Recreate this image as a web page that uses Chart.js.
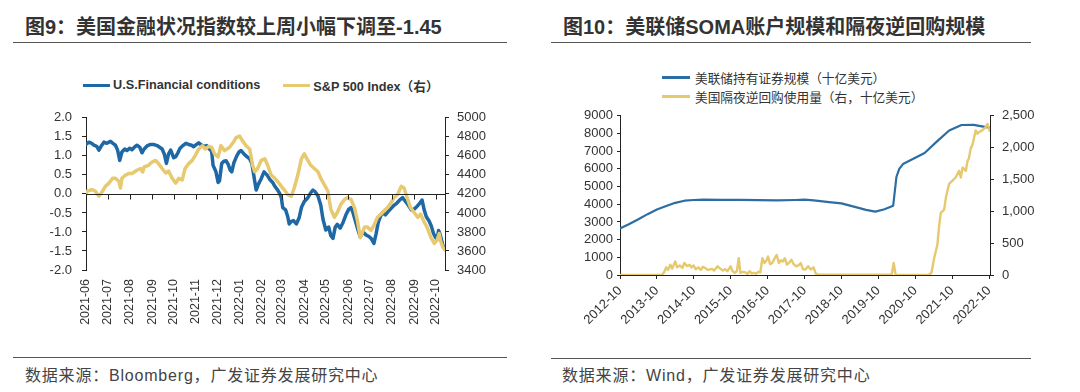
<!DOCTYPE html>
<html>
<head>
<meta charset="utf-8">
<script src="https://cdn.jsdelivr.net/npm/chart.js@4.4.0/dist/chart.umd.min.js"></script>
<style>
html,body{margin:0;padding:0;background:#fff;}
body{width:1080px;height:392px;position:relative;overflow:hidden;font-family:"Liberation Sans",Arial,"Noto Sans CJK SC",sans-serif;}
.title{position:absolute;top:15px;font-family:"Liberation Sans","Noto Sans CJK SC",sans-serif;font-weight:700;font-size:20px;line-height:24px;color:#333;white-space:nowrap;}
.rule{position:absolute;height:1px;background:#555;}
.src{position:absolute;top:367px;font-family:"Liberation Sans","Noto Sans CJK SC",sans-serif;font-size:16px;letter-spacing:0.8px;line-height:18px;color:#444;white-space:nowrap;}
canvas{position:absolute;}
.legend{position:absolute;}
.lg-item{display:flex;align-items:center;white-space:nowrap;color:#333;}
.lg-sw{display:inline-block;}
#lg1{left:83px;top:77px;display:flex;flex-direction:row;gap:23px;}
#lg1 .lg-item{height:16px;font-weight:700;font-size:12.7px;font-family:"Liberation Sans","Noto Sans CJK SC",sans-serif;}
#lg1 .lg-sw{width:27px;margin-right:3px;}
#lg2{left:662px;top:68px;display:flex;flex-direction:column;}
#lg2 .lg-item{height:19px;font-size:12.7px;font-family:"Noto Sans CJK SC",sans-serif;}
#lg2 .lg-sw{width:28px;margin-right:5px;}
</style>
</head>
<body>
<div class="title" style="left:25px;">图9：美国金融状况指数较上周小幅下调至-1.45</div>
<div class="rule" style="left:13px;top:42px;width:494px;"></div>
<div class="title" style="left:563px;">图10：美联储SOMA账户规模和隔夜逆回购规模</div>
<div class="rule" style="left:551px;top:42px;width:480px;"></div>

<div id="lg1" class="legend"></div>
<div id="lg2" class="legend"></div>

<canvas id="c1" width="540" height="245" style="left:0;top:100px;"></canvas>
<canvas id="c2" width="540" height="250" style="left:540px;top:100px;"></canvas>

<div class="rule" style="left:13px;top:357px;width:494px;"></div>
<div class="src" style="left:25px;">数据来源：Bloomberg，广发证券发展研究中心</div>
<div class="rule" style="left:551px;top:358px;width:480px;"></div>
<div class="src" style="left:562px;">数据来源：Wind，广发证券发展研究中心</div>

<script>
// ---------------- Chart 1 data (图9) ----------------
const leftTickLabels = ['2021-06','2021-07','2021-08','2021-09','2021-10','2021-11','2021-12','2022-01','2022-02','2022-03','2022-04','2022-05','2022-06','2022-07','2022-08','2022-09','2022-10'];
const leftRange = ['2021-06-01','2022-10-14'];
const fciAxisTicks = [-2.0,-1.5,-1.0,-0.5,0.0,0.5,1.0,1.5,2.0];
const spxAxisTicks = [3400,3600,3800,4000,4200,4400,4600,4800,5000];

const fciDates = ['2021-06-01','2021-06-05','2021-06-09','2021-06-12','2021-06-16','2021-06-19','2021-06-23','2021-06-26','2021-06-30',
'2021-07-05','2021-07-09','2021-07-12','2021-07-15','2021-07-18','2021-07-21','2021-07-25','2021-07-28',
'2021-08-01','2021-08-04','2021-08-07','2021-08-11','2021-08-15','2021-08-18','2021-08-21','2021-08-25','2021-08-30',
'2021-09-03','2021-09-08','2021-09-12','2021-09-15','2021-09-18','2021-09-21','2021-09-24','2021-09-27',
'2021-10-01','2021-10-04','2021-10-07','2021-10-10','2021-10-14','2021-10-18','2021-10-22','2021-10-26','2021-10-29',
'2021-11-02','2021-11-05','2021-11-09','2021-11-12','2021-11-16','2021-11-19','2021-11-23','2021-11-25','2021-11-29',
'2021-12-02','2021-12-04','2021-12-07','2021-12-10','2021-12-13','2021-12-16','2021-12-19','2021-12-21','2021-12-24','2021-12-28','2021-12-31',
'2022-01-03','2022-01-07','2022-01-11','2022-01-15','2022-01-18','2022-01-21','2022-01-24','2022-01-27','2022-01-31',
'2022-02-04','2022-02-08','2022-02-12','2022-02-16','2022-02-19','2022-02-23','2022-02-26','2022-02-28',
'2022-03-02','2022-03-06','2022-03-09','2022-03-11','2022-03-14','2022-03-17','2022-03-21','2022-03-25','2022-03-28',
'2022-04-01','2022-04-06','2022-04-10','2022-04-13','2022-04-16','2022-04-20','2022-04-24','2022-04-27',
'2022-05-01','2022-05-05','2022-05-08','2022-05-11','2022-05-14','2022-05-17','2022-05-21','2022-05-25','2022-05-29',
'2022-06-02','2022-06-05','2022-06-08','2022-06-11','2022-06-14','2022-06-18','2022-06-22','2022-06-26','2022-06-30',
'2022-07-03','2022-07-07','2022-07-10','2022-07-13','2022-07-16','2022-07-19','2022-07-23','2022-07-27','2022-07-31',
'2022-08-04','2022-08-08','2022-08-12','2022-08-16','2022-08-20','2022-08-24','2022-08-28',
'2022-09-01','2022-09-05','2022-09-09','2022-09-12','2022-09-15','2022-09-18','2022-09-22','2022-09-25','2022-09-28',
'2022-10-01','2022-10-03','2022-10-05','2022-10-07','2022-10-09','2022-10-11','2022-10-14'];
const fciValues = [1.30,1.36,1.33,1.28,1.25,1.15,1.28,1.36,1.33,
1.38,1.32,1.28,1.15,0.88,1.10,1.18,1.14,
1.20,1.16,1.22,1.28,1.22,1.08,1.18,1.26,1.30,
1.30,1.27,1.22,1.18,1.05,0.80,1.05,1.15,
0.95,0.98,1.08,1.20,1.27,1.33,1.30,1.28,1.24,
1.30,1.34,1.28,1.25,1.27,1.20,1.12,0.75,0.58,
0.30,0.35,0.80,0.86,0.87,0.78,0.62,0.58,0.82,1.00,1.10,
1.14,1.05,0.98,0.92,0.80,0.45,0.10,0.25,0.40,
0.58,0.50,0.38,0.30,0.20,0.10,0.00,-0.10,
-0.36,-0.42,-0.60,-0.79,-0.72,-0.70,-0.79,-0.62,-0.36,
-0.20,-0.10,0.03,0.10,0.06,-0.05,-0.30,-0.66,
-0.95,-0.87,-1.10,-1.17,-0.88,-0.80,-0.90,-0.75,-0.55,
-0.40,-0.36,-0.50,-0.70,-0.90,-1.13,-1.00,-1.08,-1.12,
-1.17,-1.30,-1.05,-0.75,-0.60,-0.49,-0.55,-0.46,-0.38,
-0.30,-0.24,-0.16,-0.10,-0.20,-0.30,-0.42,
-0.40,-0.33,-0.24,-0.16,-0.42,-0.60,-0.72,-0.85,-1.04,
-1.15,-1.20,-0.96,-1.05,-1.20,-1.35,-1.45];

const spxDates = ['2021-06-01','2021-06-03','2021-06-07','2021-06-10','2021-06-14','2021-06-19','2021-06-24','2021-06-28',
'2021-07-03','2021-07-08','2021-07-12','2021-07-17','2021-07-19','2021-07-21','2021-07-26','2021-07-31',
'2021-08-04','2021-08-11','2021-08-16','2021-08-19','2021-08-21','2021-08-27',
'2021-09-01','2021-09-06','2021-09-10','2021-09-15','2021-09-20','2021-09-24','2021-09-29',
'2021-10-04','2021-10-08','2021-10-13','2021-10-17','2021-10-22','2021-10-27','2021-10-31',
'2021-11-05','2021-11-10','2021-11-14','2021-11-19','2021-11-23','2021-11-27',
'2021-12-02','2021-12-06','2021-12-11','2021-12-18','2021-12-23','2021-12-27',
'2022-01-01','2022-01-05','2022-01-10','2022-01-15','2022-01-19','2022-01-22','2022-01-26','2022-01-31',
'2022-02-05','2022-02-09','2022-02-14','2022-02-19','2022-02-23','2022-02-28',
'2022-03-04','2022-03-09','2022-03-14','2022-03-18','2022-03-23','2022-03-28',
'2022-04-01','2022-04-06','2022-04-10','2022-04-15','2022-04-20','2022-04-24','2022-04-29',
'2022-05-04','2022-05-06','2022-05-08','2022-05-13','2022-05-17','2022-05-22','2022-05-27','2022-05-31',
'2022-06-05','2022-06-10','2022-06-14','2022-06-18','2022-06-24','2022-06-28',
'2022-07-03','2022-07-07','2022-07-12','2022-07-17','2022-07-21','2022-07-26','2022-07-31',
'2022-08-04','2022-08-09','2022-08-14','2022-08-18','2022-08-23','2022-08-27',
'2022-09-01','2022-09-06','2022-09-10','2022-09-15','2022-09-19','2022-09-24','2022-09-29',
'2022-10-03','2022-10-06','2022-10-08','2022-10-11','2022-10-14'];
const spxValues = [4205,4228,4240,4244,4228,4176,4228,4279,
4313,4364,4364,4330,4262,4364,4398,4415,
4415,4449,4467,4430,4484,4501,
4535,4552,4518,4467,4420,4440,4364,
4313,4364,4347,4467,4518,4552,4603,
4672,4706,4672,4700,4690,4621,
4590,4706,4655,4690,4740,4792,
4808,4757,4706,4672,4501,4433,4467,4552,
4569,4501,4398,4364,4330,4279,
4244,4193,4176,4262,4398,4569,
4621,4552,4501,4467,4433,4364,4296,
4228,4125,4039,3954,4005,4090,4142,4159,
4142,4056,3920,3740,3851,3851,
3817,3868,3954,3988,4022,4056,4108,
4159,4193,4279,4262,4142,4056,
4005,3954,3988,3903,3851,3749,3680,
3715,3783,3700,3640,3612];

// ---------------- Chart 2 data (图10) ----------------
const rightTickLabels = ['2012-10','2013-10','2014-10','2015-10','2016-10','2017-10','2018-10','2019-10','2020-10','2021-10','2022-10'];
const rightRange = ['2012-10-01','2022-10-10'];
const somaAxisTicks = [0,1000,2000,3000,4000,5000,6000,7000,8000,9000];
const rrpAxisTicks = [0,500,1000,1500,2000,2500];

const somaDates = ['2012-10-01','2013-01-01','2013-04-01','2013-07-01','2013-10-01','2014-01-01','2014-04-01','2014-07-01','2014-10-01',
'2015-01-01','2015-07-01','2016-01-01','2016-07-01','2017-01-01','2017-07-01','2017-10-01','2018-01-01','2018-06-01','2018-10-01',
'2019-03-01','2019-06-01','2019-09-01','2019-12-01','2020-02-25','2020-03-28','2020-04-25','2020-06-01','2020-10-01',
'2021-01-01','2021-05-01','2021-09-01','2022-01-01','2022-05-01','2022-09-01','2022-10-10'];
const somaValues = [2630,2880,3150,3440,3700,3900,4080,4200,4240,
4260,4250,4250,4230,4220,4240,4260,4220,4120,4050,
3820,3680,3580,3720,3920,5540,6000,6270,6630,
6900,7540,8170,8480,8490,8360,8330];

const rrpDates = ['2012-10-01','2013-11-20','2013-12-10','2013-12-31','2014-01-20','2014-02-10','2014-03-01','2014-03-31','2014-04-20',
'2014-05-15','2014-06-10','2014-06-30','2014-07-25','2014-08-20','2014-09-10','2014-09-30','2014-10-20','2014-11-15','2014-12-10','2014-12-31',
'2015-01-25','2015-02-20','2015-03-31','2015-04-20','2015-05-25','2015-06-20','2015-07-15','2015-08-05','2015-08-30','2015-09-30',
'2015-10-20','2015-11-10','2015-12-01','2015-12-20','2016-01-05','2016-01-30','2016-02-25','2016-03-15','2016-04-05','2016-04-25',
'2016-05-15','2016-06-10','2016-06-30','2016-07-20','2016-08-10','2016-08-30','2016-09-20','2016-10-05','2016-10-25','2016-11-15',
'2016-12-05','2016-12-30','2017-01-20','2017-02-10','2017-03-01','2017-03-20','2017-04-10','2017-05-05','2017-05-25','2017-06-15',
'2017-07-10','2017-08-01','2017-08-25','2017-09-15','2017-10-10','2017-11-05','2017-12-01','2017-12-29','2018-01-20','2018-02-15',
'2018-08-01','2019-03-01','2019-09-01','2020-02-10','2020-03-01','2020-03-20','2020-10-01','2021-02-15','2021-03-10','2021-04-05',
'2021-05-07','2021-05-25','2021-06-10','2021-07-13','2021-08-01','2021-09-01','2021-10-04','2021-11-06','2021-12-08','2021-12-25',
'2022-01-12','2022-02-13','2022-03-01','2022-03-16','2022-04-03','2022-04-19','2022-05-04','2022-05-21','2022-06-07','2022-06-24',
'2022-07-25','2022-08-28','2022-09-15','2022-10-10'];
const rrpValues = [0,0,40,120,80,163,100,213,120,
150,110,190,140,160,120,150,91,120,80,130,
105,80,95,70,137,100,70,91,60,137,
60,35,60,264,35,50,40,15,60,25,
35,20,50,40,264,188,230,290,170,188,
250,315,188,230,213,264,163,200,239,170,
137,150,188,91,87,137,87,120,20,5,
3,4,3,4,190,5,2,5,35,264,
470,777,975,1026,1230,1433,1483,1535,1636,1530,
1687,1636,1788,1839,1992,2040,2144,2271,2220,2245,
2271,2321,2373,2250];

// ---------------- helpers ----------------
const dayNum = s => { const p = s.split('-').map(Number); return Date.UTC(p[0], p[1] - 1, p[2] || 1) / 864e5; };
const toXY = (dates, vals) => dates.map((d, i) => ({ x: dayNum(d), y: vals[i] }));
const stepOf = arr => arr[1] - arr[0];

Chart.defaults.font.family = "'Liberation Sans', Arial, sans-serif";
Chart.defaults.color = '#333';

const AXIS = '#222';

const htmlLegend = {
  id: 'htmlLegend',
  afterUpdate(chart, args, opts) {
    const box = document.getElementById(opts.containerID);
    box.innerHTML = '';
    chart.data.datasets.forEach(ds => {
      const item = document.createElement('div');
      item.className = 'lg-item';
      const sw = document.createElement('span');
      sw.className = 'lg-sw';
      sw.style.background = ds.borderColor;
      sw.style.height = opts.swatchHeight + 'px';
      const tx = document.createElement('span');
      tx.textContent = ds.label;
      item.append(sw, tx);
      box.appendChild(item);
    });
  }
};

const zeroLine = {
  id: 'zeroLine',
  afterDatasetsDraw(chart, args, opts) {
    if (!opts.enabled) return;
    const { ctx, chartArea, scales } = chart;
    const x = scales.x, y = scales.y;
    const py = Math.round(y.getPixelForValue(0)) + 0.5;
    ctx.save();
    ctx.strokeStyle = opts.color;
    ctx.lineWidth = 1;
    ctx.beginPath();
    ctx.moveTo(chartArea.left, py);
    ctx.lineTo(chartArea.right, py);
    x.ticks.forEach(t => {
      const px = Math.round(x.getPixelForValue(t.value)) + 0.5;
      ctx.moveTo(px, py);
      ctx.lineTo(px, py + opts.tickLength);
    });
    ctx.stroke();
    ctx.restore();
  }
};

const tickFont = { size: 13 };

// ---------------- Chart 1 ----------------
new Chart(document.getElementById('c1'), {
  type: 'line',
  data: {
    datasets: [
      { label: 'U.S.Financial conditions', data: toXY(fciDates, fciValues), yAxisID: 'y',
        borderColor: '#1e68a6', backgroundColor: '#1e68a6', borderWidth: 3.5, pointRadius: 0, order: 2 },
      { label: 'S&P 500 Index（右）', data: toXY(spxDates, spxValues), yAxisID: 'y1',
        borderColor: '#e7c96f', backgroundColor: '#e7c96f', borderWidth: 3.5, pointRadius: 0, order: 1 }
    ]
  },
  options: {
    responsive: false, devicePixelRatio: 1, animation: false, events: [],
    layout: { padding: { top: 13, left: 0, right: 0, bottom: 0 } },
    elements: { line: { tension: 0, borderJoinStyle: 'round', borderCapStyle: 'round' } },
    plugins: {
      legend: { display: false }, tooltip: { enabled: false },
      htmlLegend: { containerID: 'lg1', swatchHeight: 3 },
      zeroLine: { enabled: true, color: AXIS, tickLength: 5 }
    },
    scales: {
      x: {
        type: 'linear', min: dayNum(leftRange[0]), max: dayNum(leftRange[1]),
        afterBuildTicks: s => { s.ticks = leftTickLabels.map(l => ({ value: dayNum(l + '-01') })); },
        afterFit: s => { s.height = 75; },
        ticks: { autoSkip: false, minRotation: 90, maxRotation: 90, padding: 9, color: '#333', font: { size: 12.5 },
                 callback: (v, i) => leftTickLabels[i] },
        grid: { display: false, drawTicks: false },
        border: { display: false }
      },
      y: {
        position: 'left', min: fciAxisTicks[0], max: fciAxisTicks[fciAxisTicks.length - 1],
        afterFit: s => { s.width = 86; },
        ticks: { autoSkip: false, stepSize: stepOf(fciAxisTicks), padding: 10, color: '#333', font: tickFont, callback: v => Number(v).toFixed(1) },
        grid: { drawOnChartArea: false, color: AXIS, tickLength: 4 },
        border: { color: AXIS, width: 1 }
      },
      y1: {
        position: 'right', min: spxAxisTicks[0], max: spxAxisTicks[spxAxisTicks.length - 1],
        afterFit: s => { s.width = 95; },
        ticks: { autoSkip: false, stepSize: stepOf(spxAxisTicks), padding: 8, color: '#333', font: tickFont, callback: v => String(v) },
        grid: { drawOnChartArea: false, color: AXIS, tickLength: 4 },
        border: { color: AXIS, width: 1 }
      }
    }
  },
  plugins: [htmlLegend, zeroLine]
});

// ---------------- Chart 2 ----------------
new Chart(document.getElementById('c2'), {
  type: 'line',
  data: {
    datasets: [
      { label: '美联储持有证券规模（十亿美元）', data: toXY(somaDates, somaValues), yAxisID: 'y',
        borderColor: '#2c6ea4', backgroundColor: '#2c6ea4', borderWidth: 2.2, pointRadius: 0, order: 2 },
      { label: '美国隔夜逆回购使用量（右，十亿美元）', data: toXY(rrpDates, rrpValues), yAxisID: 'y1',
        borderColor: '#e6c86d', backgroundColor: '#e6c86d', borderWidth: 2.4, pointRadius: 0, order: 1 }
    ]
  },
  options: {
    responsive: false, devicePixelRatio: 1, animation: false, events: [],
    layout: { padding: { top: 10, left: 0, right: 0, bottom: 0 } },
    elements: { line: { tension: 0, borderJoinStyle: 'round' } },
    plugins: {
      legend: { display: false }, tooltip: { enabled: false },
      htmlLegend: { containerID: 'lg2', swatchHeight: 2.5 },
      zeroLine: { enabled: false }
    },
    scales: {
      x: {
        type: 'linear', min: dayNum(rightRange[0]), max: dayNum(rightRange[1]),
        afterBuildTicks: s => { s.ticks = rightTickLabels.map(l => ({ value: dayNum(l + '-01') })); },
        afterFit: s => { s.height = 75; },
        ticks: { autoSkip: false, minRotation: 45, maxRotation: 45, padding: 4, color: '#333', font: tickFont,
                 callback: (v, i) => rightTickLabels[i] },
        grid: { drawOnChartArea: false, color: AXIS, tickLength: 4 },
        border: { color: AXIS, width: 1 }
      },
      y: {
        position: 'left', min: somaAxisTicks[0], max: somaAxisTicks[somaAxisTicks.length - 1],
        afterFit: s => { s.width = 80; },
        ticks: { autoSkip: false, stepSize: stepOf(somaAxisTicks), padding: 4, color: '#333', font: tickFont, callback: v => String(v) },
        grid: { drawOnChartArea: false, color: AXIS, tickLength: 3 },
        border: { color: AXIS, width: 1 }
      },
      y1: {
        position: 'right', min: rrpAxisTicks[0], max: rrpAxisTicks[rrpAxisTicks.length - 1],
        afterFit: s => { s.width = 90; },
        ticks: { autoSkip: false, stepSize: stepOf(rrpAxisTicks), padding: 8, color: '#333', font: tickFont,
                 callback: v => Number(v).toLocaleString('en-US') },
        grid: { drawOnChartArea: false, color: AXIS, tickLength: 4 },
        border: { color: AXIS, width: 1 }
      }
    }
  },
  plugins: [htmlLegend, zeroLine]
});
</script>
</body>
</html>
